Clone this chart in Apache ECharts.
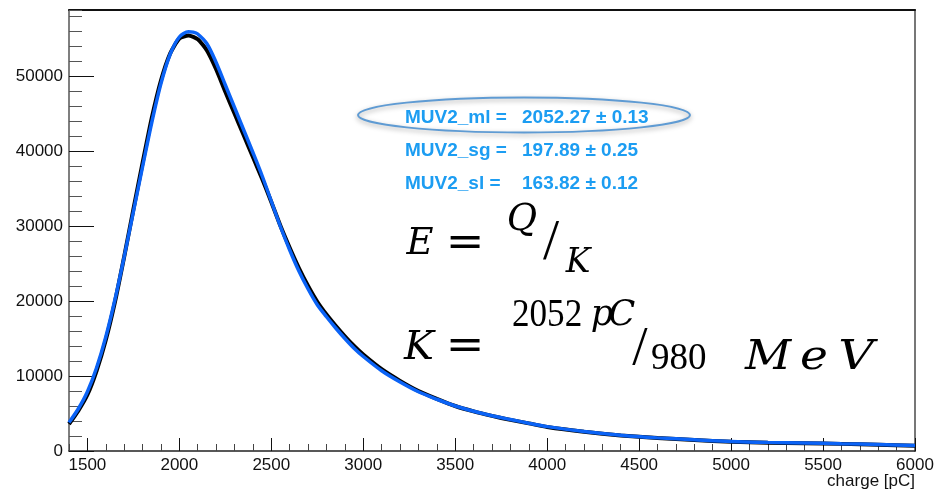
<!DOCTYPE html>
<html>
<head>
<meta charset="utf-8">
<title>MUV2 charge spectrum</title>
<script src="https://cdn.jsdelivr.net/npm/echarts@6/dist/echarts.min.js"></script>
<style>
  html, body { margin: 0; padding: 0; background: #ffffff; }
  #chart { width: 937px; height: 490px; }
</style>
</head>
<body>
<div id="chart"></div>
<script>
// Charge bins [pC] and measured counts per bin
const chargeBins = [1400,1450,1500,1550,1600,1650,1700,1750,1800,1850,1900,1950,2000,2050,2100,2150,2200,2250,2300,2350,2400,2450,2500,2550,2600,2650,2700,2750,2800,2850,2900,2950,3000,3100,3200,3300,3400,3500,3600,3700,3800,3900,4000,4200,4400,4600,4800,5000,5200,5400,5600,5800,6000];
const histCounts = [3600,5350,7500,10700,14800,19900,25900,32200,38400,44400,49400,53000,55000,55400,54900,53400,50900,47900,45000,42100,39200,36300,33200,30000,27100,24400,22000,19900,18200,16700,15300,14000,12850,10900,9350,8000,6950,6000,5280,4680,4150,3680,3200,2560,2070,1720,1460,1220,1110,1040,950,830,700];

// Landau (x) Gauss fit curve
const fitX = [1400,1450,1500,1550,1600,1650,1700,1750,1800,1850,1900,1950,2000,2050,2075,2100,2150,2200,2250,2300,2350,2400,2450,2500,2550,2600,2650,2700,2750,2800,2850,2900,2950,3000,3100,3200,3300,3400,3500,3600,3700,3800,3900,4000,4200,4400,4600,4800,5000,5200,5400,5600,5800,6000];
const fitY = [3800,5600,7900,11100,15200,20200,25900,31900,37900,43800,49000,52900,55200,55900,55850,55600,54300,51800,48800,45800,42800,39800,36700,33300,29900,26800,24000,21600,19500,17900,16400,15000,13700,12600,10700,9200,7900,6900,6000,5300,4700,4200,3700,3250,2600,2100,1750,1500,1270,1150,1080,980,880,720];

// Fit parameters
const paramNames = ['MUV2_ml', 'MUV2_sg', 'MUV2_sl'];
const paramValues = ['2052.27', '197.89', '163.82'];
const paramErrors = ['0.13', '0.25', '0.12'];

// Axis ticks
const xMajorTicks = [1500,2000,2500,3000,3500,4000,4500,5000,5500,6000];
const yMajorTicks = [0,10000,20000,30000,40000,50000];

const X_MIN = 1400, X_MAX = 6000, Y_MAX = 58800;
const AXIS_FONT = '"Liberation Sans", Arial, Helvetica, sans-serif';
const STAT_BLUE = '#1c9df2';
const FIT_BLUE = '#0b63f6';
const plain = function (v) { return String(v); };

const chart = echarts.init(document.getElementById('chart'), null, { renderer: 'canvas' });

// Glyphs of the calibration formulas
const DIGITS = '"Liberation Serif", "DejaVu Serif", serif';
const LETTERS = '"DejaVu Serif", "Liberation Serif", serif';
const MATH = '"DejaVu Sans", sans-serif';
function glyph(text, cx, baseline, size, opts) {
  opts = opts || {};
  const italic = opts.italic ? 'italic ' : '';
  const family = opts.family || (opts.italic ? LETTERS : DIGITS);
  const mid = opts.mid != null ? opts.mid : baseline - 0.34 * size;
  return {
    type: 'text', x: cx, y: mid, scaleX: opts.sx || 1, silent: true,
    style: {
      text: text, x: 0, y: 0, fill: '#000',
      font: italic + size + 'px ' + family,
      align: opts.align || 'center', verticalAlign: 'middle',
      textAlign: opts.align || 'center', textVerticalAlign: 'middle'
    }
  };
}

const formula = [
  glyph('E', 420, 257, 37, { italic: true }),
  glyph('=', 465, 0, 42, { family: MATH, mid: 244, sx: 1.1 }),
  glyph('Q', 522, 233, 37, { italic: true }),
  glyph('/', 551, 263, 58),
  glyph('K', 578, 275, 33, { italic: true }),
  glyph('K', 419, 362, 40, { italic: true }),
  glyph('=', 465, 0, 42, { family: MATH, mid: 347, sx: 1.1 }),
  glyph('2052', 512, 329, 39, { align: 'left', sx: 0.9 }),
  glyph('p', 602, 328, 35, { italic: true }),
  glyph('C', 622, 328, 35, { italic: true }),
  glyph('/', 640, 368, 55),
  glyph('980', 651, 372, 37, { align: 'left' }),
  glyph('M', 768, 372, 41, { italic: true, sx: 1.1 }),
  glyph('e', 814, 372, 41, { italic: true, sx: 1.15 }),
  glyph('V', 856, 372, 41, { italic: true, sx: 1.2 })
];

const statRows = [118, 151, 184];
const stats = [];
paramNames.forEach(function (name, i) {
  stats.push({
    type: 'text', x: 405, y: statRows[i], silent: true,
    style: { text: name + ' =', x: 0, y: 0, fill: STAT_BLUE,
      font: 'bold 19px ' + AXIS_FONT, align: 'left', verticalAlign: 'middle',
      textAlign: 'left', textVerticalAlign: 'middle' }
  });
  stats.push({
    type: 'text', x: 522, y: statRows[i], silent: true,
    style: { text: paramValues[i] + ' \u00B1 ' + paramErrors[i], x: 0, y: 0, fill: STAT_BLUE,
      font: 'bold 19px ' + AXIS_FONT, align: 'left', verticalAlign: 'middle',
      textAlign: 'left', textVerticalAlign: 'middle' }
  });
});

const highlight = {
  type: 'ellipse', silent: true, z: 10,
  shape: { cx: 524, cy: 115, rx: 166, ry: 17.5 },
  style: { fill: null, stroke: '#5f9bd3', lineWidth: 2,
    shadowBlur: 5, shadowColor: 'rgba(0,0,0,0.35)', shadowOffsetY: 2 }
};

const option = {
  animation: false,
  backgroundColor: '#ffffff',
  grid: { left: 69, right: 22, top: 10, bottom: 39, containLabel: false, outerBoundsMode: 'none' },
  xAxis: [
    { // minor ticks every 100 pC
      type: 'value', min: X_MIN, max: X_MAX, interval: 100, position: 'bottom',
      axisLine: { show: true, onZero: false, lineStyle: { color: '#222', width: 1.5 } },
      axisTick: { show: true, inside: true, length: 7, lineStyle: { color: '#444', width: 1 } },
      axisLabel: { show: false }, splitLine: { show: false }
    },
    { // major ticks, labels and the axis title
      type: 'value', min: X_MIN, max: X_MAX, position: 'bottom',
      axisLine: { show: false, onZero: false },
      axisTick: { show: true, inside: true, length: 13, customValues: xMajorTicks,
        lineStyle: { color: '#111', width: 1 } },
      axisLabel: { show: true, customValues: xMajorTicks, formatter: plain, margin: 6,
        fontSize: 17, color: '#111', fontFamily: AXIS_FONT },
      splitLine: { show: false },
      name: 'charge [pC]', nameLocation: 'end', nameGap: 0, nameMoveOverlap: false,
      nameTextStyle: { fontSize: 17, color: '#111', fontFamily: AXIS_FONT,
        align: 'right', verticalAlign: 'top', padding: [22, 0, 0, 0] }
    },
    { // frame top edge
      type: 'value', min: X_MIN, max: X_MAX, position: 'top',
      axisLine: { show: true, onZero: false, lineStyle: { color: '#111', width: 2 } },
      axisTick: { show: false }, axisLabel: { show: false }, splitLine: { show: false }
    }
  ],
  yAxis: [
    { // minor ticks every 2000
      type: 'value', min: 0, max: Y_MAX, interval: 2000, position: 'left',
      axisLine: { show: true, onZero: false, lineStyle: { color: '#555', width: 1.5 } },
      axisTick: { show: true, inside: true, length: 13, lineStyle: { color: '#555', width: 1 } },
      axisLabel: { show: false }, splitLine: { show: false }
    },
    { // major ticks and labels
      type: 'value', min: 0, max: Y_MAX, position: 'left',
      axisLine: { show: false, onZero: false },
      axisTick: { show: true, inside: true, length: 25, customValues: yMajorTicks,
        lineStyle: { color: '#111', width: 1 } },
      axisLabel: { show: true, customValues: yMajorTicks, formatter: plain, margin: 6,
        fontSize: 17, color: '#111', fontFamily: AXIS_FONT },
      splitLine: { show: false }
    },
    { // frame right edge
      type: 'value', min: 0, max: Y_MAX, position: 'right',
      axisLine: { show: true, onZero: false, lineStyle: { color: '#777', width: 2 } },
      axisTick: { show: false }, axisLabel: { show: false }, splitLine: { show: false }
    }
  ],
  series: [
    {
      name: 'data', type: 'line', xAxisIndex: 0, yAxisIndex: 0,
      data: chargeBins.map(function (x, i) { return [x, histCounts[i]]; }),
      showSymbol: false, smooth: 0.2, z: 2,
      lineStyle: { color: '#000', width: 4 }
    },
    {
      name: 'fit', type: 'line', xAxisIndex: 0, yAxisIndex: 0,
      data: fitX.map(function (x, i) { return [x, fitY[i]]; }),
      showSymbol: false, smooth: 0.3, z: 3,
      lineStyle: { color: FIT_BLUE, width: 3.5 }
    }
  ],
  graphic: [highlight].concat(stats, formula)
};

chart.setOption(option);
</script>
</body>
</html>
